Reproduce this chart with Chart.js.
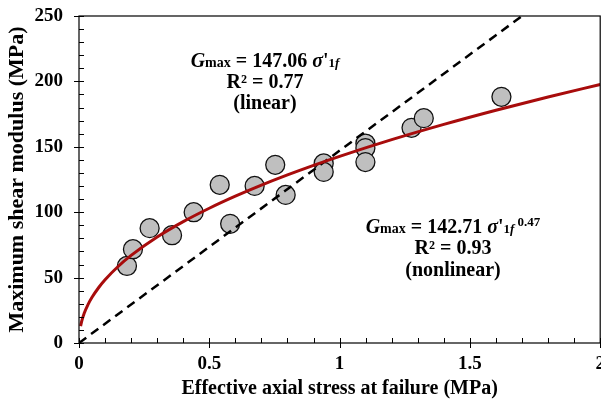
<!DOCTYPE html>
<html>
<head>
<meta charset="utf-8">
<script src="https://cdn.jsdelivr.net/npm/chart.js@4/dist/chart.umd.min.js"></script>
<style>
  html, body { margin: 0; padding: 0; background: #fff; overflow: hidden; }
  /* a little wider than the page so the last x label runs off the edge */
  #wrap { width: 611px; height: 403px; }
</style>
</head>
<body>
<div id="wrap"><canvas id="gmaxChart"></canvas></div>
<script>
// Measured samples: effective axial stress at failure (MPa) vs Gmax (MPa)
const stressValues = [0.184, 0.207, 0.271, 0.357, 0.440, 0.540, 0.580, 0.674, 0.753, 0.793,
                      0.939, 0.939, 1.099, 1.099, 1.099, 1.276, 1.323, 1.621];
const gmaxValues   = [58.9, 71.7, 87.8, 82.4, 100.0, 120.9, 91.1, 120.1, 136.2, 113.2,
                      137.3, 130.8, 152.5, 149.0, 138.3, 164.5, 171.9, 188.2];

// Fit coefficients, as printed on the chart
const linearSlope = 147.06;
const powerCoef = 142.71;
const powerExp = 0.47;

const xTickLabels = ['0', '0.5', '1', '1.5', '2'];
const yTickLabels = ['0', '50', '100', '150', '200', '250'];

const serif = "'Liberation Serif', 'Times New Roman', serif";

const scatterPoints = stressValues.map((x, i) => ({ x: x, y: gmaxValues[i] }));
const linearFit = [0, 2].map(x => ({ x: x, y: linearSlope * x }));
const powerFit = [];
const fitXs = [0.006, 0.01, 0.02, 0.035, 0.05, 0.075, 0.1, 0.15, 0.2, 0.3, 0.4, 0.5, 0.6, 0.7, 0.8,
               0.9, 1.0, 1.2, 1.4, 1.6, 1.8, 2.0];
fitXs.forEach(x => powerFit.push({ x: x, y: powerCoef * Math.pow(x, powerExp) }));

// draws a line of mixed-font text centred on cx
function drawRich(ctx, parts, cx, y) {
    let total = 0;
    parts.forEach(p => { ctx.font = p.font; total += ctx.measureText(p.t).width; });
    let x = cx - total / 2;
    parts.forEach(p => {
        ctx.font = p.font;
        ctx.fillText(p.t, x, y + (p.dy || 0));
        x += ctx.measureText(p.t).width;
    });
}

const framePlugin = {
    id: 'frame',
    afterDatasetsDraw(chart) {
        const ctx = chart.ctx;
        const area = chart.chartArea;
        const xs = chart.scales.x;
        const ys = chart.scales.y;
        ctx.save();
        ctx.strokeStyle = '#000';
        ctx.lineWidth = 1.2;
        ctx.strokeRect(area.left, area.top, area.right - area.left, area.bottom - area.top);
        ctx.lineWidth = 1;
        ctx.beginPath();
        for (let i = 0; i <= 20; i++) {
            const px = Math.round(xs.getPixelForValue(i / 10)) + 0.5;
            const major = i % 5 === 0;
            ctx.moveTo(px, area.bottom + (major ? 5 : 0));
            ctx.lineTo(px, area.bottom - 5);
        }
        for (let v = 0; v <= 250; v += 10) {
            const py = Math.round(ys.getPixelForValue(v)) + 0.5;
            const major = v % 50 === 0;
            ctx.moveTo(area.left - (major ? 5 : 0), py);
            ctx.lineTo(area.left + 5, py);
        }
        ctx.stroke();

        ctx.fillStyle = '#000';
        ctx.textBaseline = 'alphabetic';
        const big = 'bold 20px ' + serif;
        const bigIt = 'italic bold 20px ' + serif;
        const mid = 'bold 14px ' + serif;
        const small = 'bold 13px ' + serif;
        const smallIt = 'italic bold 13px ' + serif;

        drawRich(ctx, [
            { t: 'G', font: bigIt }, { t: 'max', font: mid },
            { t: ' = 147.06 ', font: big }, { t: 'σ', font: bigIt }, { t: "'", font: big },
            { t: '1', font: small }, { t: 'f', font: smallIt }
        ], 265, 67);
        drawRich(ctx, [{ t: 'R² = 0.77', font: big }], 265, 88);
        drawRich(ctx, [{ t: '(linear)', font: big }], 265, 109);

        drawRich(ctx, [
            { t: 'G', font: bigIt }, { t: 'max', font: mid },
            { t: ' = 142.71 ', font: big }, { t: 'σ', font: bigIt }, { t: "'", font: big },
            { t: '1', font: small }, { t: 'f', font: smallIt }, { t: ' 0.47', font: small, dy: -7 }
        ], 453, 233);
        drawRich(ctx, [{ t: 'R² = 0.93', font: big }], 453, 254);
        drawRich(ctx, [{ t: '(nonlinear)', font: big }], 453, 276);
        ctx.restore();
    }
};

new Chart(document.getElementById('gmaxChart'), {
    type: 'scatter',
    data: {
        datasets: [
            {
                label: 'Power fit',
                type: 'line',
                data: powerFit,
                borderColor: '#a80c0c',
                borderWidth: 3,
                pointRadius: 0,
                tension: 0.4,
                cubicInterpolationMode: 'monotone',
                fill: false,
                order: 1
            },
            {
                label: 'Linear fit',
                type: 'line',
                data: linearFit,
                borderColor: '#000',
                borderWidth: 2.5,
                borderDash: [9, 6],
                pointRadius: 0,
                fill: false,
                order: 2
            },
            {
                label: 'Gmax',
                data: scatterPoints,
                backgroundColor: '#bfbfbf',
                borderColor: '#111',
                borderWidth: 1.3,
                pointRadius: 9.5,
                order: 3
            }
        ]
    },
    options: {
        responsive: true,
        maintainAspectRatio: false,
        animation: false,
        layout: { padding: { top: 16, right: 1, left: 0, bottom: 0 } },
        plugins: {
            legend: { display: false },
            tooltip: { enabled: false }
        },
        scales: {
            x: {
                type: 'linear',
                min: 0,
                max: 2,
                afterFit: s => {
                    s.height = 60;
                    s.paddingLeft = 0;
                    s.paddingRight = 0;
                },
                grid: { display: false },
                border: { display: false },
                ticks: {
                    stepSize: 0.5,
                    padding: 2,
                    color: '#000',
                    font: { family: serif, size: 19, weight: 'bold' },
                    callback: (v, i) => xTickLabels[i]
                },
                title: {
                    display: true,
                    text: 'Effective axial stress at failure (MPa)',
                    color: '#000',
                    font: { family: serif, size: 20, weight: 'bold' },
                    padding: { top: 0, bottom: 2 }
                }
            },
            y: {
                min: 0,
                max: 250,
                afterFit: s => {
                    s.width = 79;
                    s.paddingTop = 0;
                    s.paddingBottom = 0;
                },
                grid: { display: false },
                border: { display: false },
                ticks: {
                    stepSize: 50,
                    padding: 8,
                    color: '#000',
                    font: { family: serif, size: 19, weight: 'bold' },
                    callback: (v, i) => yTickLabels[i]
                },
                title: {
                    display: true,
                    text: 'Maximum shear modulus (MPa)',
                    color: '#000',
                    font: { family: serif, size: 22, weight: 'bold' },
                    padding: { top: 4, bottom: 0 }
                }
            }
        }
    },
    plugins: [framePlugin]
});
</script>
</body>
</html>
